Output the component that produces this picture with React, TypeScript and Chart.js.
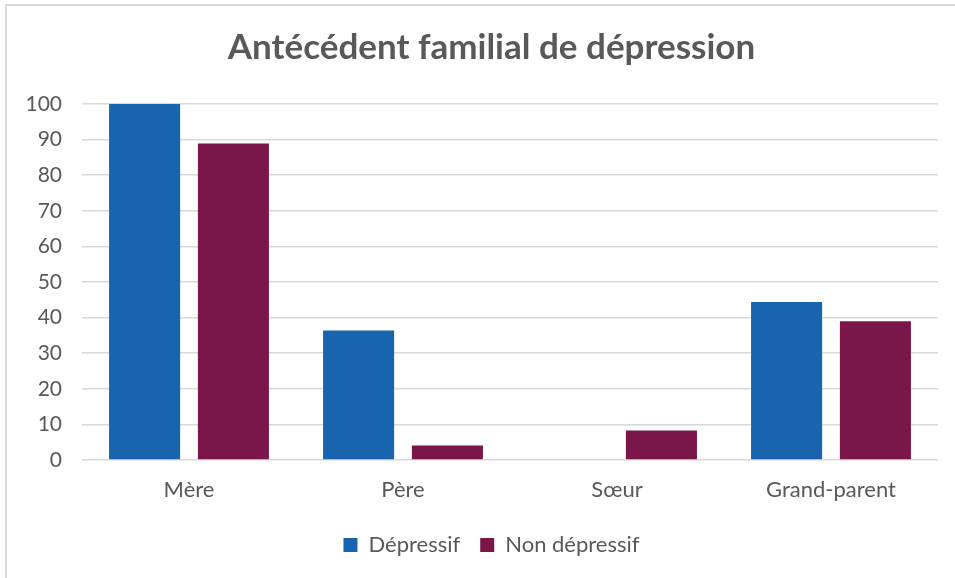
import React, { useEffect, useRef } from "react";
import { Chart, registerables } from "chart.js";

Chart.register(...registerables);

const categories = ["Mère", "Père", "Sœur", "Grand-parent"];
const depressif = [100, 36.4, 0, 44.4];
const nonDepressif = [88.9, 4.1, 8.3, 39.0];
const seriesNames = ["Dépressif", "Non dépressif"];
const titleText = "Antécédent familial de dépression";
const yMin = 0;
const yMax = 100;
const yStep = 10;

const FONT = "Lato, 'Open Sans', sans-serif";
const TEXT = "#595959";
const GRID = "#d9d9d9";

export default function App() {
  const ref = useRef<HTMLCanvasElement | null>(null);

  useEffect(() => {
    if (!ref.current) return;
    const chart = new Chart(ref.current, {
      type: "bar",
      data: {
        labels: categories,
        datasets: [
          {
            label: seriesNames[0],
            data: depressif,
            backgroundColor: "#1864AF",
            categoryPercentage: 0.83,
            barPercentage: 0.8,
            yAxisID: "y",
          },
          {
            label: seriesNames[1],
            data: nonDepressif,
            backgroundColor: "#7A164A",
            categoryPercentage: 0.83,
            barPercentage: 0.8,
            yAxisID: "y",
          },
        ],
      },
      options: {
        responsive: false,
        animation: false,
        layout: { padding: { left: 20, right: 0, top: 27, bottom: 12 } },
        plugins: {
          title: {
            display: true,
            text: titleText,
            color: TEXT,
            font: { family: FONT, size: 35, weight: "bold" },
            padding: { top: 0, bottom: 35 },
          },
          legend: {
            position: "bottom",
            labels: {
              color: TEXT,
              font: { family: FONT, size: 22 },
              boxWidth: 14,
              boxHeight: 14,
              padding: 20,
            },
          },
          tooltip: { enabled: false },
        },
        scales: {
          x: {
            grid: { display: false, drawTicks: false },
            border: { display: false },
            ticks: {
              color: TEXT,
              font: { family: FONT, size: 22 },
              padding: 17,
            },
            afterFit: (s: any) => {
              s.height = 54;
            },
          },
          y: {
            position: "left",
            min: yMin,
            max: yMax,
            grid: { color: GRID, lineWidth: 1.5, drawTicks: false },
            border: { display: false },
            ticks: {
              stepSize: yStep,
              color: TEXT,
              font: { family: FONT, size: 21 },
              padding: 20,
            },
            afterFit: (s: any) => {
              s.width = 62;
            },
          },
          yRight: {
            position: "right",
            min: yMin,
            max: yMax,
            grid: { display: false, drawTicks: false },
            border: { display: false },
            ticks: { display: false },
            afterFit: (s: any) => {
              s.width = 25;
            },
          },
        },
      },
    });
    return () => chart.destroy();
  }, []);

  return (
    <div style={{ position: "absolute", left: 0, top: 0, width: 955, height: 578, background: "#fff", overflow: "hidden" }}>
      <canvas ref={ref} width={963} height={578} style={{ position: "absolute", left: 0, top: 0 }} />
      <div
        style={{
          position: "absolute",
          left: 5,
          top: 4,
          right: 0,
          bottom: 0,
          borderLeft: `2px solid ${GRID}`,
          borderTop: `2px solid ${GRID}`,
          pointerEvents: "none",
        }}
      />
    </div>
  );
}
